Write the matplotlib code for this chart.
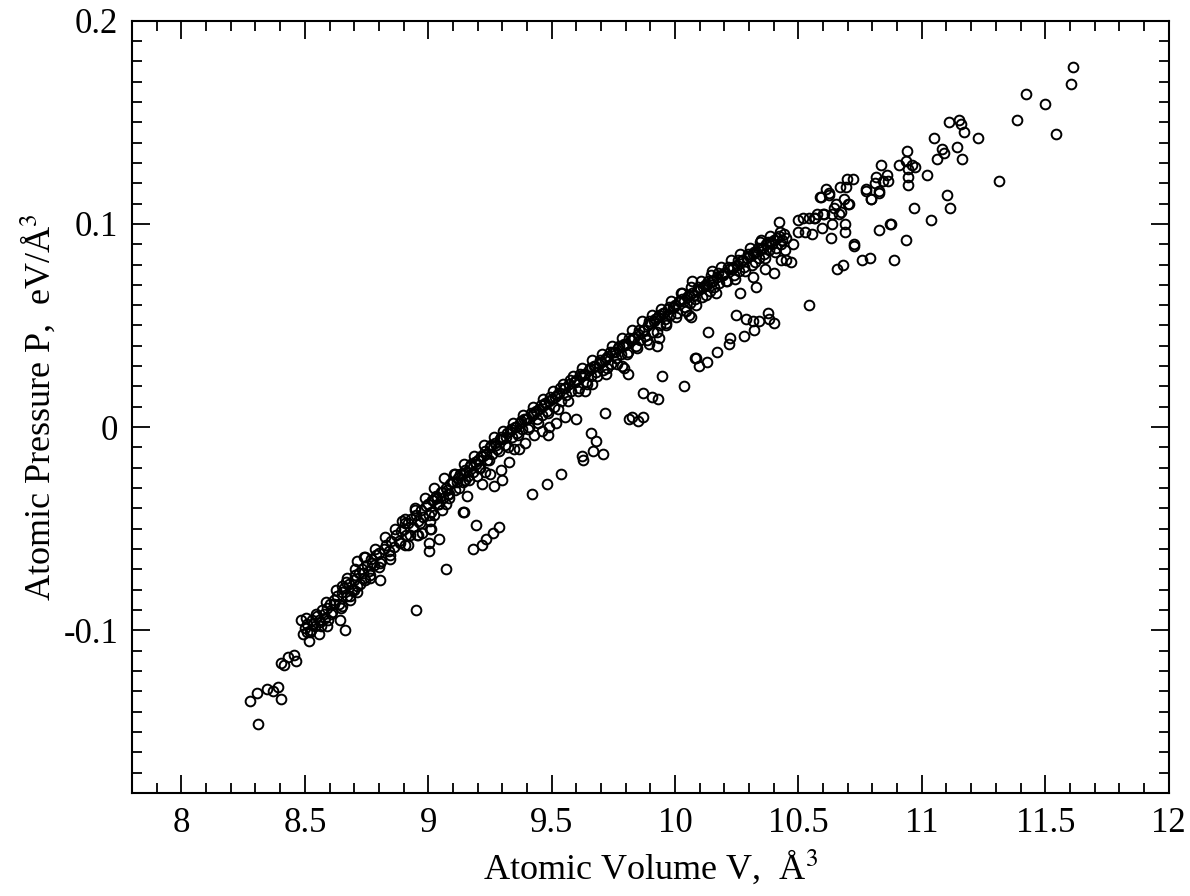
import numpy as np
import matplotlib
matplotlib.use('Agg')
import matplotlib.pyplot as plt
from matplotlib.ticker import MultipleLocator, FormatStrFormatter

plt.rcParams['font.family'] = ['Liberation Serif', 'DejaVu Serif']
plt.rcParams['mathtext.fontset'] = 'stix'
plt.rcParams['axes.unicode_minus'] = False

# dense main band (atomic volume, atomic pressure)
band_v = [8.50, 8.51, 8.52, 8.53, 8.54, 8.55, 8.56, 8.57, 8.58, 8.59,
          8.60, 8.61, 8.62, 8.63, 8.64, 8.65, 8.66, 8.67, 8.68, 8.69,
          8.70, 8.71, 8.72, 8.73, 8.74, 8.75, 8.76, 8.77, 8.78, 8.79,
          8.80, 8.81, 8.82, 8.83, 8.84, 8.85, 8.86, 8.87, 8.88, 8.89,
          8.90, 8.91, 8.92, 8.93, 8.94, 8.95, 8.96, 8.97, 8.98, 8.99,
          9.00, 9.01, 9.02, 9.03, 9.04, 9.05, 9.06, 9.07, 9.08, 9.09,
          9.10, 9.11, 9.12, 9.13, 9.14, 9.15, 9.16, 9.17, 9.18, 9.19,
          9.20, 9.21, 9.22, 9.23, 9.24, 9.25, 9.26, 9.27, 9.28, 9.29,
          9.30, 9.31, 9.32, 9.33, 9.34, 9.35, 9.36, 9.37, 9.38, 9.39,
          9.40, 9.41, 9.42, 9.43, 9.44, 9.45, 9.46, 9.47, 9.48, 9.49,
          9.50, 9.51, 9.52, 9.53, 9.54, 9.55, 9.56, 9.57, 9.58, 9.59,
          9.60, 9.61, 9.62, 9.63, 9.64, 9.65, 9.66, 9.67, 9.68, 9.69,
          9.70, 9.71, 9.72, 9.73, 9.74, 9.75, 9.76, 9.77, 9.78, 9.79,
          9.80, 9.81, 9.82, 9.83, 9.84, 9.85, 9.86, 9.87, 9.88, 9.89,
          9.90, 9.91, 9.92, 9.93, 9.94, 9.95, 9.96, 9.97, 9.98, 9.99,
          10.00, 10.01, 10.02, 10.03, 10.04, 10.05, 10.06, 10.07, 10.08, 10.09,
          10.10, 10.11, 10.12, 10.13, 10.14, 10.15, 10.16, 10.17, 10.18, 10.19,
          10.20, 10.21, 10.22, 10.23, 10.24, 10.25, 10.26, 10.27, 10.28, 10.29,
          10.30, 10.31, 10.32, 10.33, 10.34, 10.35, 10.36, 10.37, 10.38, 10.39,
          10.40, 10.41, 10.42, 10.43, 10.44, 10.45]
band_p = [-0.099, -0.097, -0.101, -0.095, -0.098, -0.093, -0.096, -0.090, -0.094, -0.089,
          -0.087, -0.091, -0.085, -0.083, -0.087, -0.081, -0.079, -0.083, -0.077, -0.080,
          -0.075, -0.078, -0.072, -0.070, -0.074, -0.068, -0.071, -0.065, -0.068, -0.063,
          -0.062, -0.066, -0.060, -0.058, -0.061, -0.056, -0.059, -0.053, -0.056, -0.051,
          -0.050, -0.053, -0.047, -0.045, -0.049, -0.043, -0.046, -0.041, -0.044, -0.039,
          -0.038, -0.042, -0.036, -0.034, -0.038, -0.032, -0.035, -0.030, -0.033, -0.028,
          -0.027, -0.031, -0.025, -0.023, -0.027, -0.021, -0.024, -0.019, -0.022, -0.017,
          -0.016, -0.020, -0.014, -0.012, -0.016, -0.010, -0.013, -0.008, -0.011, -0.006,
          -0.006, -0.009, -0.003, -0.002, -0.005, 0.000, -0.003, 0.002, -0.001, 0.004,
          0.004, 0.000, 0.006, 0.007, 0.004, 0.009, 0.006, 0.011, 0.008, 0.013,
          0.014, 0.010, 0.016, 0.017, 0.013, 0.019, 0.016, 0.021, 0.018, 0.022,
          0.023, 0.019, 0.025, 0.026, 0.022, 0.028, 0.025, 0.030, 0.027, 0.031,
          0.032, 0.028, 0.034, 0.035, 0.031, 0.037, 0.034, 0.039, 0.036, 0.040,
          0.041, 0.037, 0.043, 0.044, 0.040, 0.046, 0.043, 0.048, 0.045, 0.050,
          0.051, 0.047, 0.053, 0.054, 0.050, 0.056, 0.053, 0.058, 0.055, 0.059,
          0.060, 0.056, 0.062, 0.063, 0.059, 0.064, 0.061, 0.066, 0.063, 0.067,
          0.068, 0.064, 0.070, 0.070, 0.067, 0.072, 0.069, 0.074, 0.071, 0.075,
          0.076, 0.072, 0.078, 0.078, 0.075, 0.080, 0.077, 0.082, 0.079, 0.083,
          0.084, 0.080, 0.086, 0.086, 0.083, 0.088, 0.085, 0.090, 0.087, 0.091,
          0.092, 0.088, 0.094, 0.090, 0.095, 0.093]

# second layer of the band (upper and lower edges)
edge_v = [8.505, 8.525, 8.545, 8.565, 8.585, 8.605, 8.625, 8.645, 8.665, 8.685,
          8.705, 8.725, 8.745, 8.765, 8.785, 8.805, 8.825, 8.845, 8.865, 8.885,
          8.905, 8.925, 8.945, 8.965, 8.985, 9.005, 9.025, 9.045, 9.065, 9.085,
          9.105, 9.125, 9.145, 9.165, 9.185, 9.205, 9.225, 9.245, 9.265, 9.285,
          9.305, 9.325, 9.345, 9.365, 9.385, 9.405, 9.425, 9.445, 9.465, 9.485,
          9.505, 9.525, 9.545, 9.565, 9.585, 9.605, 9.625, 9.645, 9.665, 9.685,
          9.705, 9.725, 9.745, 9.765, 9.785, 9.805, 9.825, 9.845, 9.865, 9.885,
          9.905, 9.925, 9.945, 9.965, 9.985, 10.005, 10.025, 10.045, 10.065, 10.085,
          10.105, 10.125, 10.145, 10.165, 10.185, 10.205, 10.225, 10.245, 10.265, 10.285,
          10.305, 10.325, 10.345, 10.365, 10.385, 10.405, 10.425, 10.445]
edge_p = [-0.094, -0.100, -0.092, -0.098, -0.086, -0.092, -0.080, -0.089, -0.076, -0.083,
          -0.070, -0.077, -0.064, -0.073, -0.060, -0.067, -0.054, -0.063, -0.050, -0.057,
          -0.045, -0.053, -0.040, -0.047, -0.035, -0.043, -0.030, -0.038, -0.025, -0.033,
          -0.023, -0.030, -0.018, -0.026, -0.014, -0.020, -0.009, -0.016, -0.005, -0.012,
          -0.002, -0.010, 0.002, -0.004, 0.006, -0.001, 0.010, 0.002, 0.014, 0.007,
          0.018, 0.009, 0.021, 0.013, 0.025, 0.018, 0.029, 0.021, 0.033, 0.025,
          0.036, 0.029, 0.040, 0.031, 0.044, 0.036, 0.048, 0.039, 0.052, 0.043,
          0.055, 0.047, 0.058, 0.051, 0.062, 0.054, 0.066, 0.057, 0.069, 0.060,
          0.072, 0.065, 0.075, 0.066, 0.079, 0.072, 0.082, 0.073, 0.085, 0.077,
          0.088, 0.081, 0.091, 0.083, 0.094, 0.086, 0.096, 0.087]

# core of the band where the circles overlap into solid black
core_v = [9.015, 9.035, 9.055, 9.075, 9.095, 9.115, 9.135, 9.155, 9.175, 9.195,
          9.215, 9.235, 9.255, 9.275, 9.295, 9.315, 9.335, 9.355, 9.375, 9.395,
          9.415, 9.435, 9.455, 9.475, 9.495, 9.515, 9.535, 9.555, 9.575, 9.595,
          9.615, 9.635, 9.655, 9.675, 9.695, 9.715, 9.735, 9.755, 9.775, 9.795,
          9.815, 9.835, 9.855, 9.875, 9.895, 9.915, 9.935, 9.955, 9.975, 9.995,
          10.015, 10.035, 10.055, 10.075, 10.095, 10.115, 10.135, 10.155, 10.175, 10.195,
          10.215, 10.235, 10.255, 10.275, 10.295, 10.315, 10.335, 10.355, 10.375, 10.395,
          10.415, 10.435]
core_p = [-0.036, -0.035, -0.032, -0.031, -0.027, -0.027, -0.023, -0.022, -0.018, -0.018,
          -0.014, -0.013, -0.009, -0.009, -0.005, -0.005, -0.001, 0.000, 0.003, 0.004,
          0.007, 0.008, 0.011, 0.012, 0.015, 0.015, 0.019, 0.019, 0.023, 0.022,
          0.026, 0.026, 0.029, 0.030, 0.033, 0.033, 0.037, 0.037, 0.040, 0.041,
          0.044, 0.044, 0.048, 0.048, 0.052, 0.052, 0.055, 0.056, 0.059, 0.059,
          0.062, 0.062, 0.065, 0.065, 0.069, 0.069, 0.072, 0.072, 0.076, 0.075,
          0.079, 0.079, 0.082, 0.082, 0.085, 0.085, 0.088, 0.088, 0.091, 0.090,
          0.093, 0.092]

# sparse points at low volume
low_v = [8.312, 8.279, 8.307, 8.348, 8.372, 8.391, 8.402, 8.404, 8.415, 8.430,
         8.456, 8.464, 8.486, 8.491, 8.515, 8.508, 8.535, 8.556, 8.559, 8.576,
         8.589, 8.594, 8.617, 8.644, 8.664, 8.650, 8.650, 8.671, 8.684, 8.698,
         8.711, 8.705, 8.734, 8.745, 8.765, 8.772, 8.799, 8.711, 8.740, 8.844,
         8.806, 8.951, 8.975, 8.955, 9.013, 9.009, 8.907, 8.918, 8.959, 9.005,
         9.005, 9.045, 9.070, 9.181, 9.218, 9.235, 9.262, 9.286, 9.144, 9.194,
         9.157, 9.141, 9.151]
low_p = [-0.146, -0.135, -0.131, -0.129, -0.130, -0.128, -0.134, -0.116, -0.117, -0.113,
         -0.112, -0.115, -0.095, -0.102, -0.105, -0.101, -0.097, -0.102, -0.095, -0.092,
         -0.098, -0.095, -0.087, -0.095, -0.100, -0.088, -0.078, -0.074, -0.085, -0.080,
         -0.081, -0.073, -0.072, -0.075, -0.074, -0.067, -0.069, -0.066, -0.064, -0.065,
         -0.075, -0.090, -0.052, -0.053, -0.050, -0.046, -0.058, -0.058, -0.053, -0.061,
         -0.057, -0.055, -0.070, -0.060, -0.058, -0.055, -0.052, -0.049, -0.042, -0.048,
         -0.034, -0.042, -0.026]

# sparse points in the middle, below the band
mid_v = [9.218, 9.266, 9.299, 9.293, 9.252, 9.327, 9.367, 9.394, 9.428, 9.486,
         9.421, 9.482, 9.540, 9.624, 9.627, 9.669, 9.709, 9.658, 9.681, 9.553,
         9.600, 9.716, 9.813, 9.827, 9.851, 9.870, 9.871, 9.905, 9.932, 9.949,
         10.036, 9.793, 9.808, 10.084, 10.097, 10.131, 10.170, 10.135, 10.222, 10.219,
         10.280, 10.322, 10.249, 10.289, 10.314, 10.341, 10.378, 10.381, 10.400, 10.262,
         10.318, 10.330, 10.365, 10.402, 10.429, 10.449, 10.469, 10.479, 10.541, 10.063,
         9.928, 9.935, 10.081,
         8.894, 8.907, 8.948, 9.009, 9.022, 9.056, 9.070, 9.083, 9.198, 9.232,
         9.347, 9.462, 9.516, 9.110, 9.489, 9.637, 9.664, 9.719, 9.787, 9.895,
         9.962, 10.057]
mid_p = [-0.028, -0.029, -0.026, -0.021, -0.023, -0.017, -0.011, -0.008, -0.004, -0.004,
         -0.033, -0.028, -0.023, -0.014, -0.016, -0.012, -0.013, -0.003, -0.007, 0.005,
         0.004, 0.007, 0.004, 0.005, 0.003, 0.005, 0.017, 0.015, 0.014, 0.025,
         0.020, 0.029, 0.026, 0.034, 0.030, 0.032, 0.037, 0.047, 0.044, 0.041,
         0.045, 0.048, 0.055, 0.053, 0.052, 0.052, 0.056, 0.053, 0.051, 0.066,
         0.074, 0.069, 0.078, 0.076, 0.082, 0.082, 0.081, 0.090, 0.060, 0.054,
         0.040, 0.044, 0.034,
         -0.046, -0.047, -0.041, -0.050, -0.043, -0.041, -0.038, -0.035, -0.024, -0.022,
         -0.011, -0.002, 0.002, -0.023, 0.000, 0.018, 0.021, 0.026, 0.030, 0.041,
         0.050, 0.055]

# sparse points at high volume
high_v = [10.656, 10.679, 10.757, 10.790, 10.888, 10.726, 10.725, 10.826, 10.874, 10.937,
          11.036, 10.871, 10.633, 10.690, 10.690, 10.636, 10.595, 10.555, 10.527, 10.500,
          10.500, 10.519, 10.544, 10.568, 10.422, 10.598, 10.636, 10.672, 10.652, 10.686,
          10.706, 10.794, 10.591, 10.625, 10.611, 10.668, 10.692, 10.774, 10.828, 10.697,
          10.722, 10.622, 10.587, 10.699, 10.645, 10.665, 10.604, 10.577, 10.564, 10.772,
          10.825, 10.795, 10.809, 10.841, 10.863, 10.857, 10.814, 10.836, 10.906, 10.936,
          10.941, 10.946, 10.960, 10.971, 10.946, 10.944, 11.022, 10.967, 11.102, 11.116,
          11.048, 11.082, 11.088, 11.060, 11.144, 11.162, 11.110, 11.149, 11.160, 11.170,
          11.229, 11.314, 11.386, 11.423, 11.498, 11.544, 11.605, 11.612, 10.347, 10.151,
          10.070, 10.030]
high_p = [0.078, 0.080, 0.082, 0.083, 0.082, 0.089, 0.090, 0.097, 0.100, 0.092,
          0.102, 0.100, 0.093, 0.096, 0.100, 0.100, 0.098, 0.095, 0.096, 0.096,
          0.102, 0.103, 0.103, 0.103, 0.101, 0.105, 0.105, 0.106, 0.110, 0.112,
          0.110, 0.112, 0.113, 0.114, 0.117, 0.118, 0.118, 0.117, 0.115, 0.122,
          0.122, 0.115, 0.113, 0.110, 0.108, 0.105, 0.105, 0.105, 0.103, 0.116,
          0.116, 0.112, 0.120, 0.121, 0.121, 0.124, 0.123, 0.129, 0.129, 0.131,
          0.136, 0.127, 0.129, 0.128, 0.123, 0.119, 0.124, 0.108, 0.114, 0.108,
          0.142, 0.137, 0.135, 0.132, 0.138, 0.132, 0.150, 0.151, 0.149, 0.145,
          0.142, 0.121, 0.151, 0.164, 0.159, 0.144, 0.169, 0.177, 0.092, 0.077,
          0.072, 0.066]

fig = plt.figure(figsize=(11.9, 8.96), dpi=100)
ax = fig.add_axes([0.111, 0.115, 0.871, 0.862])

for v, p in [(band_v, band_p), (edge_v, edge_p), (core_v, core_p),
             (low_v, low_p), (mid_v, mid_p), (high_v, high_p)]:
    ax.plot(v, p, ls='none', marker='o', ms=7, mfc='none', mec='k', mew=1.4)

ax.set_xlim(7.8, 12)
ax.set_ylim(-0.18, 0.2)
ax.xaxis.set_major_locator(MultipleLocator(0.5))
ax.xaxis.set_minor_locator(MultipleLocator(0.1))
ax.yaxis.set_major_locator(MultipleLocator(0.1))
ax.yaxis.set_minor_locator(MultipleLocator(0.01))
ax.xaxis.set_major_formatter(FormatStrFormatter('%g'))
ax.yaxis.set_major_formatter(FormatStrFormatter('%g'))
ax.tick_params(which='both', direction='in', top=True, right=True, width=1.3)
ax.tick_params(which='major', length=13, labelsize=25, pad=10)
ax.tick_params(which='minor', length=7)
for s in ax.spines.values():
    s.set_linewidth(1.5)

ax.set_xlabel('Atomic Volume V,  Å$^3$', fontsize=26, labelpad=6)
ax.set_ylabel('Atomic Pressure P,  eV/Å$^3$', fontsize=26, labelpad=4)

fig.savefig('out.png', dpi=100)
